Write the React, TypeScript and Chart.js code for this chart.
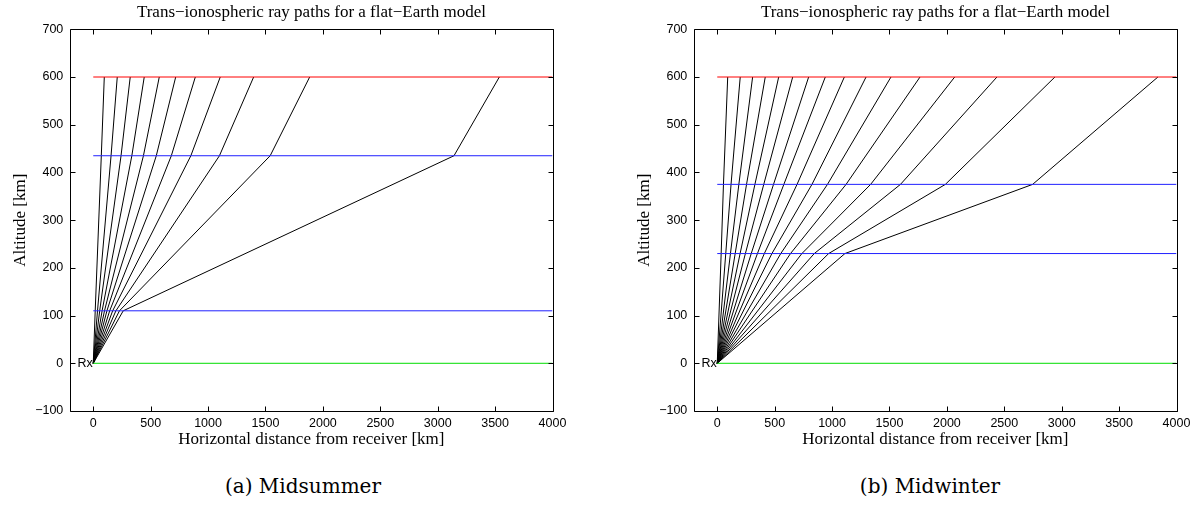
import React, { useEffect, useRef } from 'react';
import { Chart, registerables } from 'chart.js';

Chart.register(...registerables);

// Axis ticks
const xTicks = [0, 500, 1000, 1500, 2000, 2500, 3000, 3500, 4000];
const yTicks = [-100, 0, 100, 200, 300, 400, 500, 600, 700];
const xRange = [-200, 4000];
const yRange = [-100, 700];
const layerSpan = [0, 4000];
const groundLevel = 0;

// (a) Midsummer: layer altitudes [km] and ray x-positions [km] where each ray meets them
const summerLayers = [110, 435, 600];
const summerRayX1 = [17, 37, 56, 77, 98, 119, 143, 169, 197, 228, 261];
const summerRayX2 = [70, 155, 242, 336, 437, 549, 680, 850, 1099, 1541, 3142];
const summerRayX3 = [96, 209, 322, 444, 575, 718, 889, 1106, 1397, 1885, 3537];

// (b) Midwinter
const winterLayers = [230, 375, 600];
const winterRayX1 = [34, 74, 115, 156, 199, 245, 296, 350, 410, 476, 553, 638, 737, 845, 970, 1112];
const winterRayX2 = [54, 120, 188, 255, 328, 405, 490, 580, 695, 825, 960, 1122, 1336, 1596, 1987, 2747];
const winterRayX3 = [91, 200, 308, 418, 535, 657, 796, 941, 1107, 1296, 1513, 1766, 2068, 2436, 2941, 3838];

const titleText = 'Trans\u2212ionospheric ray paths for a flat\u2212Earth model';
const xLabelText = 'Horizontal distance from receiver [km]';
const yLabelText = 'Altitude [km]';
const rxText = 'Rx';

const SANS = '"Liberation Sans", Arial, Helvetica, sans-serif';
const SERIF = '"Liberation Serif", "Times New Roman", Times, serif';

const layerColors = ['#2020ff', '#2020ff', '#ff0000'];

function buildDatasets(layers: number[], x1: number[], x2: number[], x3: number[]) {
  const ds: any[] = [];
  layers.forEach((h, i) => {
    ds.push({
      data: [{ x: layerSpan[0], y: h }, { x: layerSpan[1], y: h }],
      borderColor: layerColors[i],
      borderWidth: 1,
    });
  });
  ds.push({
    data: [{ x: layerSpan[0], y: groundLevel }, { x: layerSpan[1], y: groundLevel }],
    borderColor: '#00dd00',
    borderWidth: 1,
  });
  x1.forEach((_, i) => {
    ds.push({
      data: [
        { x: 0, y: groundLevel },
        { x: x1[i], y: layers[0] },
        { x: x2[i], y: layers[1] },
        { x: x3[i], y: layers[2] },
      ],
      borderColor: '#000000',
      borderWidth: 1,
    });
  });
  return ds.map((d) => ({ ...d, showLine: true, pointRadius: 0, tension: 0, fill: false }));
}

const framePlugin = {
  id: 'matlabFrame',
  afterDraw(chart: any) {
    const { ctx, chartArea } = chart;
    const xs = chart.scales.x;
    const ys = chart.scales.y;
    const L = Math.round(chartArea.left) + 0.5;
    const R = Math.round(chartArea.right) + 0.5;
    const T = Math.round(chartArea.top) + 0.5;
    const B = Math.round(chartArea.bottom) + 0.5;
    ctx.save();
    ctx.strokeStyle = '#000';
    ctx.lineWidth = 1;
    ctx.beginPath();
    ctx.rect(L, T, R - L, B - T);
    const tl = 5;
    xTicks.forEach((v) => {
      const px = Math.round(xs.getPixelForValue(v)) + 0.5;
      ctx.moveTo(px, B);
      ctx.lineTo(px, B - tl);
      ctx.moveTo(px, T);
      ctx.lineTo(px, T + tl);
    });
    yTicks.forEach((v) => {
      const py = Math.round(ys.getPixelForValue(v)) + 0.5;
      ctx.moveTo(L, py);
      ctx.lineTo(L + tl, py);
      ctx.moveTo(R, py);
      ctx.lineTo(R - tl, py);
    });
    ctx.stroke();

    const cx = (chartArea.left + chartArea.right) / 2;
    const cy = (chartArea.top + chartArea.bottom) / 2;
    ctx.fillStyle = '#000';
    ctx.textAlign = 'center';
    ctx.textBaseline = 'middle';
    ctx.font = `17px ${SERIF}`;
    ctx.fillText(titleText, cx, 13);
    ctx.fillText(xLabelText, cx, 440);
    ctx.save();
    ctx.translate(21, cy);
    ctx.rotate(-Math.PI / 2);
    ctx.fillText(yLabelText, 0, 0);
    ctx.restore();

    ctx.font = `12.5px ${SANS}`;
    ctx.textAlign = 'right';
    ctx.fillText(rxText, xs.getPixelForValue(0) - 0.5, ys.getPixelForValue(0) + 0.5);
    ctx.restore();
  },
};

function fmt(v: number) {
  return v < 0 ? '\u2212' + Math.abs(v) : String(v);
}

interface RayProps {
  layers: number[];
  x1: number[];
  x2: number[];
  x3: number[];
  left: number;
  width: number;
}

function RayChart({ layers, x1, x2, x3, left, width }: RayProps) {
  const ref = useRef<HTMLCanvasElement | null>(null);
  useEffect(() => {
    if (!ref.current) return;
    const tickFont = { family: SANS, size: 12.5 };
    const chart = new Chart(ref.current, {
      type: 'scatter',
      data: { datasets: buildDatasets(layers, x1, x2, x3) },
      options: {
        animation: false,
        responsive: false,
        maintainAspectRatio: false,
        events: [],
        layout: { padding: { left: 0, top: 29.3, right: width - 552.5, bottom: 0 } },
        plugins: {
          legend: { display: false },
          tooltip: { enabled: false },
          title: { display: false },
        },
        scales: {
          x: {
            type: 'linear',
            min: xRange[0],
            max: xRange[1],
            afterBuildTicks: (s: any) => {
              s.ticks = xTicks.map((v) => ({ value: v }));
            },
            afterFit: (s: any) => {
              s.height = 49;
            },
            grid: { display: false, drawTicks: false },
            border: { display: false },
            ticks: {
              padding: 5,
              color: '#000',
              font: tickFont,
              maxRotation: 0,
              autoSkip: false,
              callback: (v: any) => fmt(Number(v)),
            },
          },
          y: {
            type: 'linear',
            min: yRange[0],
            max: yRange[1],
            afterBuildTicks: (s: any) => {
              s.ticks = yTicks.map((v) => ({ value: v }));
            },
            afterFit: (s: any) => {
              s.width = 70.3;
            },
            grid: { display: false, drawTicks: false },
            border: { display: false },
            ticks: {
              padding: 7,
              color: '#000',
              font: tickFont,
              autoSkip: false,
              callback: (v: any) => fmt(Number(v)),
            },
          },
        },
      } as any,
      plugins: [framePlugin],
    });
    return () => chart.destroy();
  }, []);
  return (
    <canvas
      ref={ref}
      width={width}
      height={460}
      style={{ position: 'absolute', left, top: 0, width, height: 460, display: 'block' }}
    />
  );
}

const captionStyle: React.CSSProperties = {
  position: 'absolute',
  top: 472,
  width: 300,
  textAlign: 'center',
  fontFamily: '"DejaVu Serif", serif',
  fontSize: 20,
  lineHeight: '28px',
  color: '#000',
  whiteSpace: 'nowrap',
};

export default function App() {
  return (
    <div
      style={{
        position: 'absolute',
        left: 0,
        top: 0,
        width: 1203,
        height: 506,
        background: '#fff',
        overflow: 'hidden',
      }}
    >
      <RayChart layers={summerLayers} x1={summerRayX1} x2={summerRayX2} x3={summerRayX3} left={0} width={600} />
      <RayChart layers={winterLayers} x1={winterRayX1} x2={winterRayX2} x3={winterRayX3} left={624} width={579} />
      <div style={{ ...captionStyle, left: 303 - 150 }}>(a) Midsummer</div>
      <div style={{ ...captionStyle, left: 930 - 150 }}>(b) Midwinter</div>
    </div>
  );
}
